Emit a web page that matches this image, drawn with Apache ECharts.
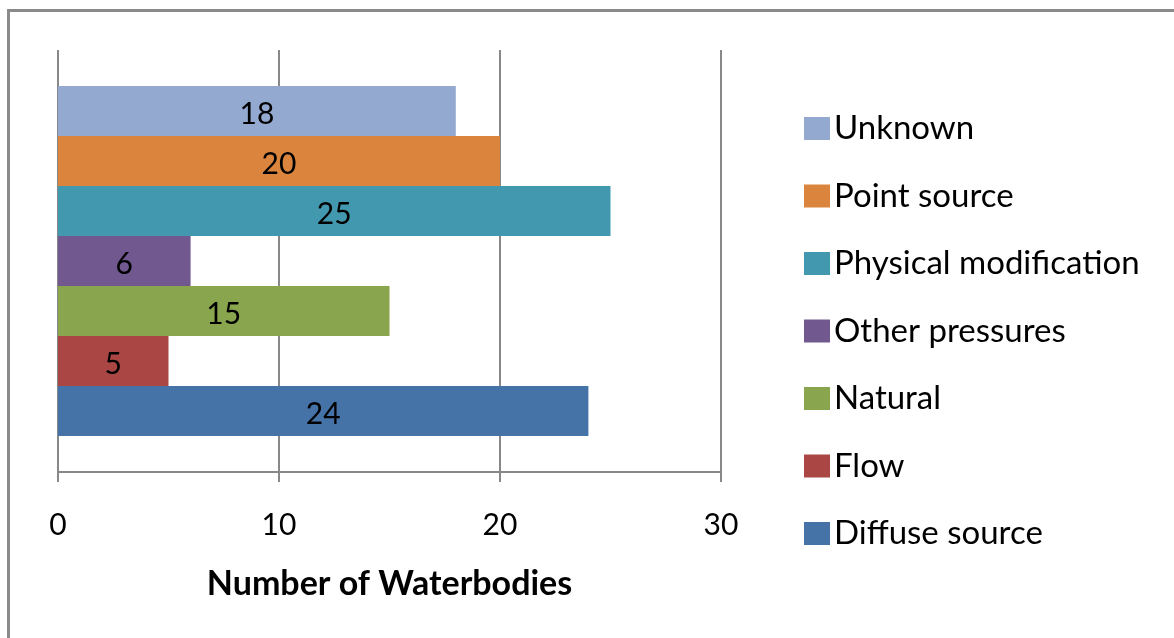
<!DOCTYPE html>
<html>
<head>
<meta charset="utf-8">
<script src="https://cdn.jsdelivr.net/npm/echarts@6/dist/echarts.min.js"></script>
<style>
html,body{margin:0;padding:0;background:#fff;}
#chart{width:1174px;height:638px;}
</style>
</head>
<body>
<div id="chart"></div>
<script>
// Data (top to bottom, same as legend order)
const seriesNames = ["Unknown", "Point source", "Physical modification", "Other pressures", "Natural", "Flow", "Diffuse source"];
const seriesValues = [18, 20, 25, 6, 15, 5, 24];
const seriesColors = ["#94A9D0", "#DB843D", "#4198AF", "#71588F", "#89A54E", "#AA4643", "#4572A7"];
const categories = [""];
const xTicks = [0, 10, 20, 30];
const axisTitle = "Number of Waterbodies";

const FONT = "Lato";
const chart = echarts.init(document.getElementById('chart'));
const series = seriesNames.map((n, i) => ({
  name: n,
  type: 'bar',
  data: [seriesValues[i]],
  barWidth: 50,
  barGap: '0%',
  itemStyle: { color: seriesColors[i] },
  label: { show: true, position: 'inside', offset: [0, 3], color: '#000', fontSize: 30, fontFamily: FONT },
  emphasis: { disabled: true }
}));

chart.setOption({
  animation: false,
  backgroundColor: '#fff',
  textStyle: { fontFamily: FONT },
  graphic: [{
    type: 'rect',
    shape: { x: 8.5, y: 10.5, width: 1300, height: 800 },
    style: { fill: 'none', stroke: '#8a8a8a', lineWidth: 3 },
    z: 100
  }],
  grid: { left: 58, right: 453, top: 50, bottom: 166, containLabel: false },
  legend: {
    orient: 'vertical',
    left: 799,
    top: 107,
    data: seriesNames,
    itemWidth: 26,
    itemHeight: 23,
    itemGap: 34.5,
    icon: 'rect',
    selectedMode: false,
    textStyle: { fontSize: 33, color: '#000', fontFamily: FONT, lineHeight: 23, padding: [0, 0, 0, -1] }
  },
  xAxis: {
    type: 'value',
    min: xTicks[0],
    max: xTicks[xTicks.length - 1],
    interval: 10,
    name: axisTitle,
    nameLocation: 'middle',
    nameGap: 95,
    nameTextStyle: { fontSize: 34, fontWeight: 'bold', color: '#000', fontFamily: FONT, verticalAlign: 'top' },
    axisLine: { show: true, lineStyle: { color: '#888', width: 2 } },
    axisTick: { show: true, length: 10, lineStyle: { color: '#888', width: 2 } },
    splitLine: { show: true, lineStyle: { color: '#888', width: 2 } },
    axisLabel: { fontSize: 30, color: '#000', margin: 38, fontFamily: FONT }
  },
  yAxis: {
    type: 'category',
    data: categories,
    inverse: true,
    axisLine: { show: false },
    axisTick: { show: false },
    axisLabel: { show: false }
  },
  series: series
});
</script>
</body>
</html>
